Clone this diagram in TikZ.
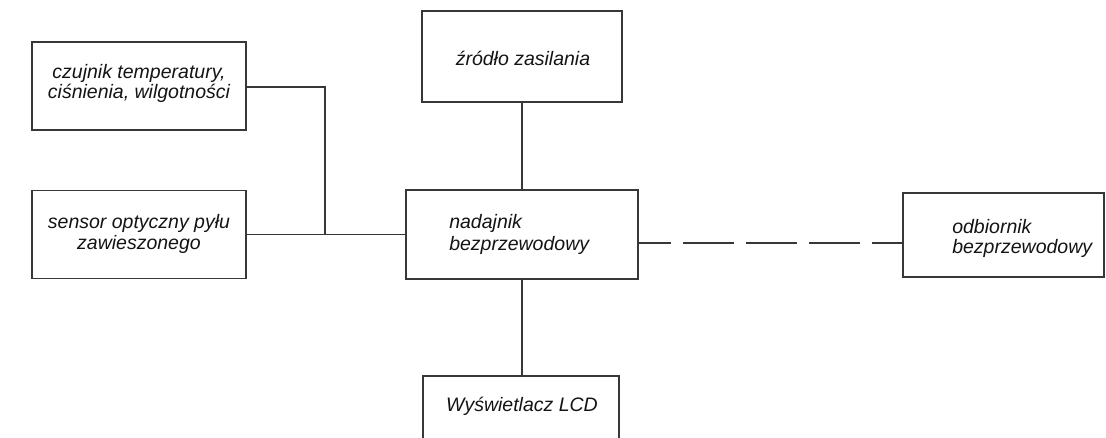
\documentclass[tikz,border=0pt]{standalone}
\usepackage{fontspec}
\setmainfont{Liberation Sans}
\definecolor{ln}{RGB}{55,55,55}
\definecolor{tx}{RGB}{20,20,20}
\begin{document}
\begin{tikzpicture}[x=1pt,y=-1pt,
  box/.style={draw=ln, line width=1.8pt, rectangle, inner sep=0pt},
  txt/.style={font=\itshape\fontsize{19.5}{18}\selectfont, text=tx, inner sep=0pt},
  wire/.style={draw=ln, line width=1.8pt}]
\useasboundingbox (0,0) rectangle (1106,437);
\clip (0,0) rectangle (1106,437);
\fill[white] (0,0) rectangle (1106,437);
% boxes
\node[box, minimum width=214, minimum height=88] (czu) at (139,86) {};
\node[txt, align=center, font=\itshape\fontsize{19.5}{17.5}\selectfont] (czut) at (139,83.5) {czujnik temperatury,\\ciśnienia, wilgotności};
\node[box, minimum width=214, minimum height=88] (sen) at (139,234.5) {};
\node[txt, align=center, font=\itshape\fontsize{19.5}{21}\selectfont] (sent) at (139,234) {sensor optyczny pyłu\\zawieszonego};
\node[box, minimum width=200, minimum height=91] (zro) at (522,56.5) {};
\node[txt] (zrot) at (523,58) {źródło zasilania};
\node[box, minimum width=232, minimum height=89] (nad) at (522,234.5) {};
\node[txt, align=left, anchor=west, font=\itshape\fontsize{19.5}{22}\selectfont] (nadt) at ([xshift=44]nad.west) {nadajnik\\bezprzewodowy};
\node[box, minimum width=201, minimum height=84] (odb) at (1003.5,235) {};
\node[txt, align=left, anchor=west, font=\itshape\fontsize{19.5}{20}\selectfont] (odbt) at ([xshift=50,yshift=-3]odb.west) {odbiornik\\bezprzewodowy};
\node[box, minimum width=196, minimum height=80, anchor=north] (lcd) at (521,375) {};
\node[txt] (lcdt) at (522,406) {Wyświetlacz LCD};
% connectors
\coordinate (j) at (325,234.5);
\draw[wire] ([yshift=-1]czu.east) -| (j);
\draw[wire] (sen.east) -- (nad.west);
\draw[wire] (zro.south) -- (nad.north);
\draw[wire] (nad.south) -- (nad.south |- lcd.north);
\draw[wire, dash pattern=on 51pt off 12pt, dash phase=19pt] ([yshift=-8.5]nad.east) -- ([yshift=-8.5]nad.east -| odb.west);
\end{tikzpicture}
\end{document}
